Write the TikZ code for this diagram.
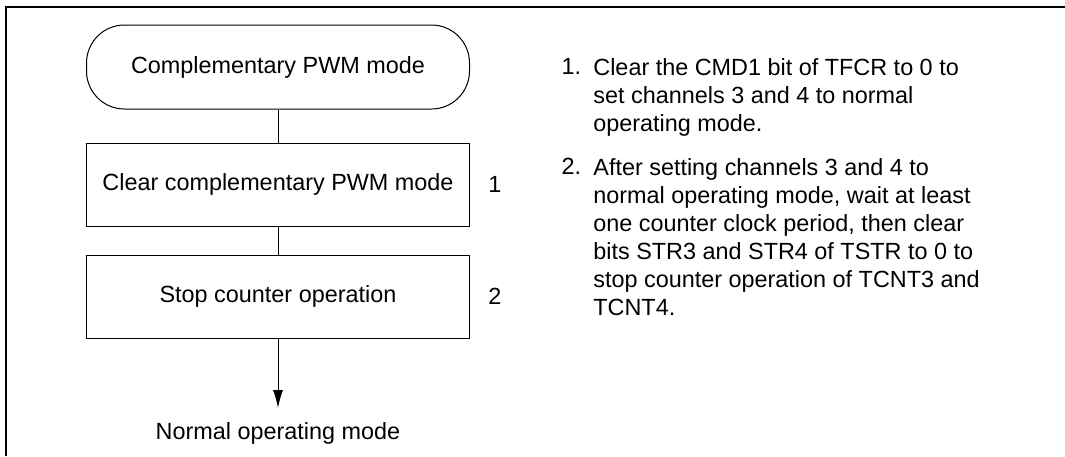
\documentclass[tikz,border=0pt]{standalone}
\usepackage{fontspec}
\setmainfont{Liberation Sans}
\usetikzlibrary{arrows.meta,positioning,calc}
\tikzset{
  % flow chart boxes
  termbox/.style={draw, rectangle, rounded corners=19pt, minimum width=191.5pt,
                  minimum height=42pt, line width=0.5pt, align=center},
  stepbox/.style={draw, rectangle, minimum width=191.5pt, minimum height=41.5pt,
                  line width=0.5pt, align=center},
  % step numbers and notes
  stepnum/.style={inner sep=0pt},
  note/.style={align=left, inner sep=0pt},
  % connectors
  flowline/.style={line width=0.5pt},
  flowarr/.style={line width=0.5pt, -{Latex[length=9pt,width=5pt]}},
  frame/.style={line width=1pt}
}
\begin{document}
\begin{tikzpicture}[x=0.5pt, y=-0.5pt, font=\fontsize{11.7}{14}\selectfont]
\useasboundingbox (0,0) rectangle (1065,456);

% ============== frame ==============
\coordinate (fl) at (6,456);
\coordinate (fc) at (6,7);
\coordinate (fr) at (1065,7);
\draw[frame] (fl) -- (fc) -- (fr);

% ============== flow chart ==============
\node[termbox] (pwm) at (278,67) {Complementary PWM mode};
\node[stepbox, below=16.5pt of pwm] (clr) {Clear complementary PWM mode};
\node[stepbox, below=14pt of clr] (stop) {Stop counter operation};
\coordinate (tip) at (278,408);
\node[below=3.5pt of tip] (normal) {Normal operating mode};

\draw[flowline] (pwm.south) -- (clr.north);
\draw[flowline] (clr.south) -- (stop.north);
\draw[flowarr] (stop.south) -- (tip);

\node[stepnum, right=9pt of clr] (n1) {1};
\node[stepnum, right=9pt of stop] (n2) {2};

% ============== notes ==============
\node[note, anchor=north west] (note1) at (593,58)
  {Clear the CMD1 bit of TFCR to 0 to\\
   set channels 3 and 4 to normal\\
   operating mode.};
\node[note, anchor=north east] (k1) at ($(note1.north west)+(-11.5,0)$) {1.};

\node[note, anchor=north west] (note2) at (593,158)
  {After setting channels 3 and 4 to\\
   normal operating mode, wait at least\\
   one counter clock period, then clear\\
   bits STR3 and STR4 of TSTR to 0 to\\
   stop counter operation of TCNT3 and\\
   TCNT4.};
\node[note, anchor=north east] (k2) at ($(note2.north west)+(-11.5,0)$) {2.};

\end{tikzpicture}
\end{document}
